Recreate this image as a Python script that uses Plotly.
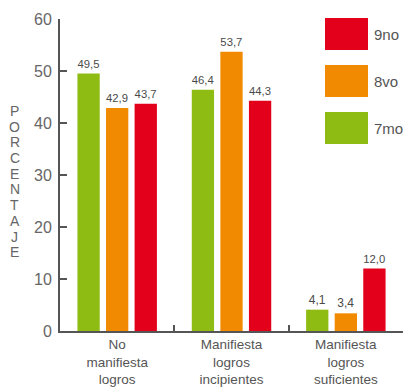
import plotly.graph_objects as go

categories = ["No<br>manifiesta<br>logros", "Manifiesta<br>logros<br>incipientes", "Manifiesta<br>logros<br>suficientes"]
series_names = ["7mo", "8vo", "9no"]
values_7mo = [49.5, 46.4, 4.1]
values_8vo = [42.9, 53.7, 3.4]
values_9no = [43.7, 44.3, 12.0]
colors = ["#8FBC12", "#F18A00", "#E2001A"]
y_ticks = [0, 10, 20, 30, 40, 50, 60]
y_title = "PORCENTAJE"

series_values = [values_7mo, values_8vo, values_9no]

fig = go.Figure()
for name, vals, col in zip(series_names, series_values, colors):
    fig.add_trace(go.Bar(
        x=categories, y=vals, name=name, marker_color=col, marker_line_width=0,
        text=[f"{v:.1f}".replace(".", ",") for v in vals],
        textposition="outside", cliponaxis=False,
        textfont=dict(size=12, color="#4a4a4a", family="Liberation Sans"),
        showlegend=False,
    ))

# legend drawn as large swatches (9no on top)
for i, (name, col) in enumerate(zip(series_names[::-1], colors[::-1])):
    y0 = 1 - (18 + 47 * i - 19) / 312
    fig.add_shape(type="rect", xref="paper", yref="paper",
                  x0=(325 - 60) / 343, x1=(368 - 60) / 343,
                  y0=y0 - 32 / 312, y1=y0, fillcolor=col, line_width=0)
    fig.add_annotation(xref="paper", yref="paper", x=(372 - 60) / 343, y=y0 - 16 / 312,
                       text=name, showarrow=False, xanchor="left", yanchor="middle",
                       font=dict(size=15, color="#555555", family="Liberation Sans"))

# vertical stacked axis title
for k, ch in enumerate(y_title):
    yc = 111 + k * 15.7
    fig.add_annotation(xref="paper", yref="paper", x=(14.5 - 60) / 343, y=1 - (yc - 19) / 312,
                       text=ch, showarrow=False, xanchor="center", yanchor="middle",
                       font=dict(size=14, color="#666666", family="Liberation Sans"))

fig.update_layout(
    width=404, height=387,
    margin=dict(l=60, r=1, t=19, b=56),
    paper_bgcolor="white", plot_bgcolor="white",
    barmode="group", bargap=0.25, bargroupgap=0.22,
    font=dict(family="Liberation Sans", color="#555555"),
)
fig.update_yaxes(range=[0, 60], tickvals=y_ticks, showgrid=False, zeroline=False,
                 showline=True, linecolor="#555555", linewidth=2, automargin=False,
                 ticks="inside", ticklen=7, tickwidth=2, tickcolor="#555555",
                 tickfont=dict(size=16, color="#666666"), ticklabelstandoff=3)
fig.update_xaxes(showgrid=False, showline=True, linecolor="#555555", linewidth=2,
                 automargin=False,
                 ticks="inside", tickson="boundaries", ticklen=6, tickwidth=2,
                 tickcolor="#555555", tickfont=dict(size=13.5, color="#555555"))

fig.write_html("out.html")
